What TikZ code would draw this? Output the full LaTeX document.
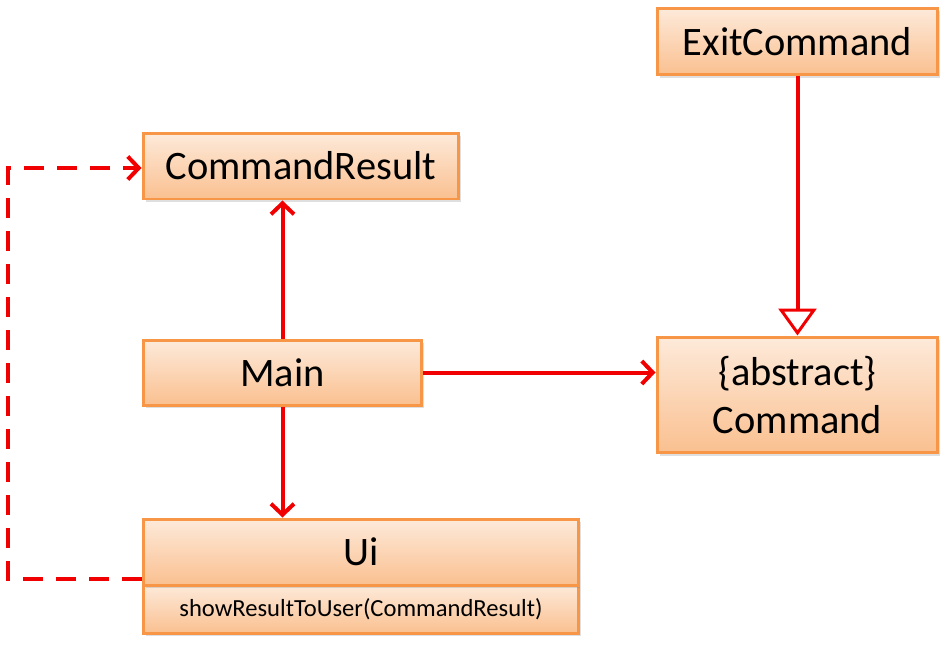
\documentclass[tikz,border=0pt]{standalone}
\usepackage{fontspec}
\setmainfont{Carlito}
\usetikzlibrary{arrows.meta,shadows}
\definecolor{boxtop}{HTML}{FDEADA}
\definecolor{boxbot}{HTML}{FAC090}
\definecolor{boxline}{HTML}{F79646}
\definecolor{linkred}{HTML}{F00000}
\begin{document}
\begin{tikzpicture}[x=0.02cm,y=-0.02cm,
    cls/.style={draw=boxline, line width=0.06cm, top color=boxtop, bottom color=boxbot,
      inner sep=0pt, align=center, font=\fontsize{23}{27}\selectfont,
      drop shadow={shadow xshift=0.05cm, shadow yshift=-0.06cm, opacity=0.25, fill=gray}},
    link/.style={draw=linkred, line width=0.08cm, -{Straight Barb[length=0.22cm,width=0.46cm]}},
    uses/.style={link, dash pattern=on 0.4cm off 0.26cm},
    inherits/.style={draw=linkred, line width=0.08cm, -{Triangle[open, length=0.54cm, width=0.76cm, line width=0.06cm]}}]
      \useasboundingbox (0,0) rectangle (948,650);
      \node[cls, minimum width=5.62cm, minimum height=1.34cm] (exit) at (797.5,41.5) {ExitCommand};
      \node[cls, minimum width=6.32cm, minimum height=1.32cm] (result) at (301,166) {CommandResult};
      \node[cls, minimum width=5.58cm, minimum height=1.3cm] (main) at (282.5,372.5) {Main};
      \node[cls, minimum width=5.62cm, minimum height=2.32cm] (command) at (797.5,395) {\{abstract\}\\Command};
      \node[cls, minimum width=8.72cm, minimum height=0.96cm, font=\fontsize{14}{17}\selectfont] (uiops) at (361,609) {showResultToUser(CommandResult)};
      \node[cls, minimum width=8.72cm, minimum height=1.32cm] (ui) at (361,552) {Ui};
      \coordinate (low) at (8,579);
      \coordinate (high) at (8,168);
      \draw[link] (main.north) -- (main.north |- result.south);
      \draw[link] (main.south) -- (main.south |- ui.north);
      \draw[link] (main.east) -- (main.east -| command.west);
      \draw[inherits] (exit.south) -- (command.north);
      \draw[uses] (ui.west |- low) -- (low) -- (high) -- (high -| result.west);
    \end{tikzpicture}
\end{document}
